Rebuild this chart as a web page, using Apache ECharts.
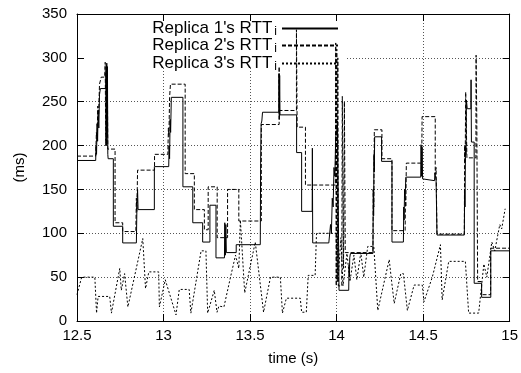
<!DOCTYPE html>
<html><head><meta charset="utf-8">
<script src="https://cdn.jsdelivr.net/npm/echarts@6/dist/echarts.min.js"></script>
<style>html,body{margin:0;padding:0;background:#fff}#c{width:521px;height:373px}</style>
</head><body><div id="c"></div>
<script>
// ---- data ----
var seriesNames = ["Replica 1's RTT", "Replica 2's RTT", "Replica 3's RTT"];
var xTicks = [12.5, 13, 13.5, 14, 14.5, 15];
var yTicks = [0, 50, 100, 150, 200, 250, 300, 350];

var r1T = [12.5,12.608,12.61,12.613,12.616,12.619,12.622,12.626,12.63,12.635,12.666,12.668,12.67,12.672,12.674,12.676,12.678,12.68,12.71,12.71,12.764,12.764,12.843,12.846,12.85,12.853,12.947,12.947,13.03,13.032,13.035,13.038,13.041,13.045,13.112,13.112,13.169,13.169,13.226,13.226,13.268,13.268,13.303,13.303,13.352,13.354,13.357,13.36,13.363,13.42,13.42,13.559,13.561,13.564,13.568,13.572,13.666,13.667,13.669,13.671,13.673,13.769,13.769,13.798,13.798,13.859,13.86,13.862,13.955,13.965,13.97,13.975,13.98,13.985,13.99,13.995,14.0,14.005,14.014,14.014,14.07,14.072,14.074,14.076,14.08,14.21,14.212,14.214,14.216,14.218,14.22,14.26,14.26,14.32,14.32,14.386,14.388,14.39,14.393,14.396,14.4,14.486,14.488,14.491,14.494,14.497,14.501,14.566,14.568,14.575,14.58,14.58,14.738,14.74,14.742,14.745,14.748,14.75,14.755,14.776,14.777,14.779,14.795,14.795,14.838,14.838,14.891,14.891,15.0];
var r1V = [183,183,200,190,225,205,240,220,258,265,265,285,200,294,210,290,190,185,185,108,108,89,89,127,150,127,127,176,176,200,185,230,215,255,255,153,153,112,112,90,90,132,132,72,72,112,75,110,78,78,87,87,180,225,228,238,238,282,230,280,235,235,192,192,125,125,197,89,89,110,100,140,130,175,165,210,215,228,229,35,35,64,50,72,77,77,150,120,190,170,210,210,182,182,90,90,130,115,150,140,164,164,201,165,198,162,160,160,169,160,160,98,98,150,130,200,190,252,242,242,275,204,204,43,43,27,27,80,80];

var r2T = [12.5,12.608,12.612,12.616,12.62,12.625,12.63,12.64,12.66,12.663,12.666,12.669,12.672,12.675,12.678,12.72,12.72,12.764,12.764,12.84,12.843,12.846,12.85,12.948,12.948,13.025,13.028,13.031,13.035,13.04,13.125,13.125,13.178,13.178,13.236,13.236,13.258,13.258,13.31,13.31,13.37,13.37,13.435,13.435,13.565,13.565,13.668,13.668,13.67,13.768,13.768,13.772,13.82,13.82,13.993,13.995,13.998,14.001,14.004,14.007,14.01,14.03,14.033,14.04,14.045,14.05,14.21,14.212,14.215,14.218,14.262,14.262,14.32,14.32,14.396,14.398,14.4,14.403,14.492,14.494,14.57,14.57,14.575,14.58,14.738,14.74,14.743,14.746,14.75,14.753,14.805,14.806,14.81,14.815,14.815,14.838,14.838,14.89,14.89,15.0];
var r2V = [188,188,215,205,245,235,270,278,278,295,200,292,205,290,196,196,112,112,102,102,140,125,172,172,190,190,220,210,255,270,270,168,168,127,127,104,104,153,153,95,95,150,150,114,114,224,224,290,240,240,332,221,221,155,155,317,40,310,45,300,40,40,256,60,250,78,78,150,130,218,218,185,185,103,103,140,130,180,180,233,233,167,175,99,99,200,180,261,261,186,186,303,233,233,45,45,30,30,83,83];

var r3T = [12.5,12.527,12.603,12.613,12.622,12.689,12.699,12.747,12.756,12.775,12.794,12.88,12.896,12.915,12.972,12.976,13.01,13.072,13.091,13.148,13.158,13.217,13.245,13.255,13.293,13.309,13.32,13.349,13.387,13.416,13.435,13.444,13.469,13.53,13.578,13.618,13.675,13.687,13.71,13.79,13.798,13.825,13.836,13.876,13.884,13.997,14.008,14.025,14.037,14.06,14.077,14.1,14.117,14.14,14.157,14.18,14.215,14.238,14.304,14.318,14.333,14.371,14.386,14.409,14.448,14.495,14.505,14.553,14.6,14.61,14.648,14.744,14.763,14.821,14.851,14.868,14.897,14.914,14.943,14.954,14.974];
var r3V = [30,50,50,9,28,28,9,60,35,54,16,94,37,56,56,16,47,7,36,36,9,80,80,9,35,10,17,16,50,75,60,115,32,90,10,50,50,9,26,26,10,10,52,52,100,100,45,95,40,77,45,75,47,78,50,85,85,12,70,45,20,54,54,12,41,41,22,50,87,24,68,68,9,9,65,50,90,80,110,105,128];

function zip(t, v) { var out = []; for (var i = 0; i < t.length; i++) out.push([t[i], v[i]]); return out; }

var FONT = 'Liberation Sans';
var chart = echarts.init(document.getElementById('c'), null, {renderer: 'canvas'});
var tickStyle = {color: '#000', width: 1};
var gridDash = {color: '#555', width: 1, type: [1, 2]};

function legendFor(i, top) {
  return {
    orient: 'vertical', align: 'right', right: 182, top: top, padding: 0,
    itemWidth: 56, itemHeight: 10,
    itemStyle: {opacity: 0},
    data: [seriesNames[i]],
    textStyle: {fontFamily: FONT, fontSize: 17, color: '#000',
      rich: {a: {fontFamily: FONT, fontSize: 17, color: '#000', lineHeight: 18},
             s: {fontFamily: FONT, fontSize: 12, color: '#000', verticalAlign: 'bottom', padding: [0, 0, 0, 2]}}},
    formatter: function (name) { return '{a|' + name + '}{s|i}'; }
  };
}

chart.setOption({
  animation: false,
  backgroundColor: '#fff',
  grid: {left: 77, right: 8, top: 14, bottom: 52, containLabel: false},
  legend: [legendFor(0, 20), legendFor(1, 37), legendFor(2, 55)],
  graphic: [{type: 'rect', z: 1, shape: {x: 85, y: 15, width: 262, height: 53}, style: {fill: '#fff'}, silent: true}],
  xAxis: [{
    type: 'value', min: xTicks[0], max: xTicks[xTicks.length - 1], interval: 0.5,
    name: 'time (s)', nameLocation: 'middle', nameGap: 30,
    nameTextStyle: {fontFamily: FONT, fontSize: 15, color: '#000'},
    axisLine: {show: true, onZero: false, lineStyle: tickStyle},
    axisTick: {show: true, inside: true, length: 7, lineStyle: tickStyle},
    axisLabel: {fontFamily: FONT, fontSize: 15, color: '#000', margin: 7},
    splitLine: {show: true, lineStyle: gridDash}
  }, {
    type: 'value', position: 'top', min: xTicks[0], max: xTicks[xTicks.length - 1], interval: 0.5, z: 3,
    axisLine: {show: true, onZero: false, lineStyle: tickStyle},
    axisTick: {show: true, inside: true, length: 7, lineStyle: tickStyle},
    axisLabel: {show: false}, splitLine: {show: false}
  }],
  yAxis: [{
    type: 'value', min: yTicks[0], max: yTicks[yTicks.length - 1], interval: 50,
    name: '(ms)', nameLocation: 'middle', nameGap: 50, nameRotate: 90,
    nameTextStyle: {fontFamily: FONT, fontSize: 15, color: '#000'},
    axisLine: {show: true, onZero: false, lineStyle: tickStyle},
    axisTick: {show: true, inside: true, length: 7, lineStyle: tickStyle},
    axisLabel: {fontFamily: FONT, fontSize: 15, color: '#000', margin: 10},
    splitLine: {show: true, lineStyle: gridDash}
  }, {
    type: 'value', position: 'right', min: yTicks[0], max: yTicks[yTicks.length - 1], interval: 50, z: 3,
    axisLine: {show: true, onZero: false, lineStyle: tickStyle},
    axisTick: {show: true, inside: true, length: 7, lineStyle: tickStyle},
    axisLabel: {show: false}, splitLine: {show: false}
  }],
  series: [
    {name: seriesNames[0], type: 'line', symbol: 'none', z: 4, data: zip(r1T, r1V),
     lineStyle: {color: '#000', width: 1, type: 'solid'}, itemStyle: {color: '#000'}},
    {name: seriesNames[1], type: 'line', symbol: 'none', z: 3, data: zip(r2T, r2V),
     lineStyle: {color: '#000', width: 1, type: [4, 2]}, itemStyle: {color: '#000'}},
    {name: seriesNames[2], type: 'line', symbol: 'none', z: 2, data: zip(r3T, r3V),
     lineStyle: {color: '#000', width: 1, type: [2, 2]}, itemStyle: {color: '#000'}}
  ]
});
</script></body></html>
